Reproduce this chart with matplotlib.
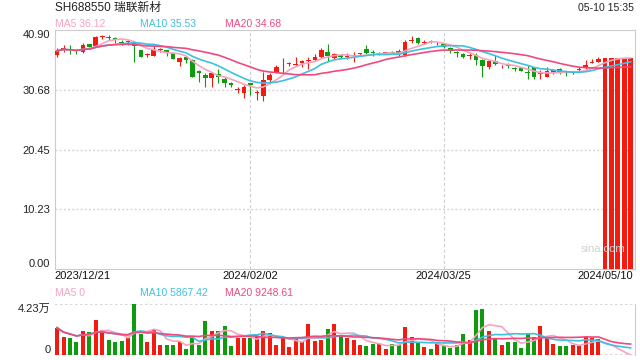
import numpy as np
import pandas as pd
import matplotlib
matplotlib.use('Agg')
import matplotlib.pyplot as plt
import matplotlib.transforms as mtransforms

plt.rcParams['font.family'] = ['Liberation Sans', 'Noto Sans CJK SC', 'DejaVu Sans']

# daily candles, 2023/12/21 .. 2024/05/10
opens = [36.68, 37.48, 37.53, 37.20, 37.19, 38.50, 38.16, 39.70, 39.70, 39.47,
         38.90, 38.80, 38.73, 37.48, 36.60, 36.50, 37.44, 37.48, 37.02, 35.48,
         36.22, 35.76, 33.88, 33.20, 32.62, 33.37, 32.51, 31.88, 30.60, 30.20,
         31.77, 30.20, 29.60, 32.34, 33.60, 35.00, 35.05, 34.90, 35.20, 35.60,
         35.76, 36.33, 37.19, 36.05, 36.62, 36.22, 36.40, 36.75, 37.59, 36.95,
         36.85, 36.95, 37.05, 37.36, 36.62, 39.00, 39.47, 38.70, 38.95, 38.60,
         38.50, 37.76, 36.95, 36.80, 36.40, 36.62, 35.76, 34.50, 35.65, 34.50,
         34.85, 34.25, 34.45, 33.50, 34.50, 33.45, 32.91, 33.48, 34.16, 33.60,
         33.55, 34.00, 34.33, 35.20, 35.48, 0.0, 0.0, 0.0, 0.0, 0.0]
closes = [37.36, 37.76, 37.42, 37.05, 38.33, 37.93, 39.64, 39.76, 39.60, 39.19,
          38.62, 38.90, 38.16, 36.33, 36.70, 37.48, 37.50, 37.19, 35.88, 36.05,
          35.76, 32.91, 33.48, 32.62, 33.48, 32.91, 31.88, 31.48, 30.65, 31.08,
          31.43, 30.30, 32.34, 33.20, 34.62, 35.08, 35.08, 34.95, 35.65, 35.65,
          36.22, 37.48, 36.45, 36.80, 36.22, 36.30, 36.45, 36.80, 37.02, 36.90,
          36.90, 37.02, 37.00, 36.80, 38.90, 39.07, 38.73, 38.80, 38.90, 38.62,
          38.05, 37.36, 36.90, 36.33, 36.45, 35.76, 34.80, 35.60, 35.02, 34.55,
          34.80, 34.20, 33.94, 33.48, 32.91, 33.48, 33.94, 34.05, 33.60, 33.55,
          33.60, 34.05, 34.90, 35.48, 35.93, 36.10, 36.10, 36.15, 36.10, 36.15]
highs = [37.76, 38.33, 38.33, 37.50, 38.62, 38.50, 39.87, 40.10, 40.10, 39.76,
         39.19, 39.19, 38.90, 37.50, 37.00, 38.33, 37.76, 37.48, 37.02, 36.22,
         36.33, 35.90, 34.05, 33.48, 33.77, 34.16, 32.91, 32.05, 31.20, 31.48,
         31.88, 30.63, 33.77, 33.48, 34.90, 36.05, 35.48, 36.22, 35.76, 36.33,
         36.80, 37.76, 38.50, 37.00, 36.80, 36.90, 37.19, 37.00, 38.33, 37.48,
         37.05, 37.20, 37.30, 37.59, 39.19, 39.87, 39.76, 39.19, 39.20, 38.90,
         38.62, 38.05, 37.36, 37.02, 36.90, 36.90, 35.88, 35.76, 36.62, 34.90,
         35.30, 34.50, 34.50, 34.90, 34.50, 34.05, 34.50, 34.30, 34.33, 33.94,
         33.94, 34.50, 35.76, 35.88, 36.22, 36.10, 36.10, 36.15, 36.10, 36.15]
lows = [36.22, 37.19, 36.80, 36.80, 37.00, 37.93, 38.05, 39.30, 39.20, 38.62,
        38.33, 38.33, 35.48, 36.30, 36.33, 36.50, 37.19, 36.45, 35.88, 34.74,
        35.30, 32.90, 32.05, 31.08, 31.08, 31.77, 31.08, 31.20, 30.05, 29.20,
        29.77, 28.90, 28.80, 31.77, 33.50, 33.48, 34.74, 34.74, 34.50, 34.16,
        35.65, 36.05, 35.65, 35.90, 36.05, 35.88, 35.48, 36.60, 36.80, 36.45,
        36.70, 36.80, 36.85, 36.45, 36.45, 38.62, 38.50, 38.50, 38.70, 38.33,
        37.90, 37.02, 36.33, 36.05, 35.88, 34.90, 32.90, 34.16, 34.85, 34.33,
        34.33, 33.94, 33.90, 32.45, 32.45, 32.45, 32.80, 33.37, 33.30, 33.00,
        33.37, 33.77, 34.16, 35.20, 35.48, 0.0, 0.0, 0.0, 0.0, 0.0]
# volume in 万
volumes = [2.28, 1.53, 1.45, 1.11, 2.00, 1.95, 2.95, 2.09, 1.28, 1.11,
           1.20, 1.45, 4.23, 1.78, 1.11, 2.17, 0.83, 0.83, 0.83, 1.11,
           0.50, 1.47, 0.83, 2.86, 2.03, 2.03, 2.45, 0.78, 1.39, 1.45,
           1.39, 1.61, 2.03, 1.84, 0.83, 1.39, 0.70, 1.33, 1.11, 2.61,
           1.17, 1.25, 2.17, 2.59, 1.67, 1.45, 1.28, 0.83, 0.75, 0.92,
           0.92, 0.50, 0.92, 0.83, 2.34, 1.50, 1.06, 0.67, 0.50, 0.97,
           0.75, 0.56, 0.83, 1.75, 1.25, 3.75, 3.84, 2.00, 1.39, 0.83,
           1.08, 1.08, 0.58, 1.81, 1.50, 2.42, 1.47, 0.92, 0.75, 0.75,
           0.83, 0.78, 1.50, 1.45, 1.33, 0.0, 0.0, 0.0, 0.0, 0.0]

tick_labels = ['2023/12/21', '2024/02/02', '2024/03/25', '2024/05/10']
tick_pos = [0, 30, 60, 89]
price_ticks = [0.00, 10.23, 20.45, 30.68, 40.90]
vol_top = 4.23

RED = '#f31a10'
GREEN = '#0e9c0e'
C_MA5 = '#f7a3c0'
C_MA10 = '#3ec0e0'
C_MA20 = '#ee4a80'

n = len(closes)
x = np.arange(n)
o = np.array(opens)
c = np.array(closes)
up = c >= o
colors = np.where(up, RED, GREEN)

ma5 = pd.Series(closes).rolling(5, min_periods=1).mean()
ma10 = pd.Series(closes).rolling(10, min_periods=1).mean()
ma20 = pd.Series(closes).rolling(20, min_periods=1).mean()
vma5 = pd.Series(volumes).rolling(5, min_periods=1).mean()
vma10 = pd.Series(volumes).rolling(10, min_periods=1).mean()
vma20 = pd.Series(volumes).rolling(20, min_periods=1).mean()

W, H = 640, 360
fig = plt.figure(figsize=(6.4, 3.6), dpi=100)
ax = fig.add_axes([54.5 / W, 1 - 269 / H, 580 / W, 239 / H])
axv = fig.add_axes([54.5 / W, 1 - 355 / H, 580 / W, 50.7 / H])

""" price panel """
ax.vlines(x, lows, highs, colors=colors, lw=0.8, zorder=3)
body = np.maximum(np.abs(c - o), 0.15)
ax.bar(x, body, bottom=np.minimum(o, c), width=0.72, color=colors, zorder=4)
ax.plot(x, ma5, color=C_MA5, lw=1.2, zorder=5)
ax.plot(x, ma10, color=C_MA10, lw=1.2, zorder=5)
ax.plot(x, ma20, color=C_MA20, lw=1.2, zorder=5)

ax.set_xlim(-0.4, n - 0.4)
ax.set_ylim(0, 40.90)
for v in price_ticks[1:-1]:
    ax.axhline(v, color='#d6d6d6', lw=1.0, ls=(0, (1.5, 1.5)), zorder=1)
for p in tick_pos[1:3]:
    ax.axvline(p, color='#cfcfcf', lw=0.8, ls=(0, (3, 2)), zorder=1)
ax.set_xticks([])
ax.set_yticks(price_ticks)
ax.set_yticklabels(['%.2f' % v for v in price_ticks], fontsize=8, color='#222222')
ax.tick_params(axis='y', length=0, pad=3)
labs = ax.get_yticklabels()
labs[0].set_va('bottom')
labs[-1].set_va('top')
for s in ax.spines.values():
    s.set_color('#cccccc')
    s.set_linewidth(0.8)

trans = mtransforms.blended_transform_factory(ax.transData, ax.transAxes)
has = ['left', 'center', 'center', 'right']
for lab, p, ha in zip(tick_labels, tick_pos, has):
    xx = -0.4 if ha == 'left' else (p + 0.4 if ha == 'right' else p)
    ax.text(xx, -0.01, lab, transform=trans, ha=ha, va='top', fontsize=8, color='#111111')

""" volume panel """
axv.bar(x, volumes, width=0.62, color=colors, zorder=3)
axv.plot(x, vma5, color=C_MA5, lw=1.2, zorder=4)
axv.plot(x, vma10, color=C_MA10, lw=1.2, zorder=4)
axv.plot(x, vma20, color=C_MA20, lw=1.2, zorder=4)
axv.set_xlim(-0.4, n - 0.4)
axv.set_ylim(0, vol_top)
axv.axhline(vol_top, color='#d0d0d0', lw=1.2, ls=(0, (1.5, 1.5)), zorder=1)
axv.axhline(0, color='#d0d0d0', lw=1.2, ls=(0, (1.5, 1.5)), zorder=1)
for p in tick_pos[1:3]:
    axv.axvline(p, color='#cfcfcf', lw=0.8, ls=(0, (3, 2)), zorder=1)
axv.set_xticks([])
axv.set_yticks([0, vol_top])
axv.set_yticklabels(['0', '%.2f万' % vol_top], fontsize=8, color='#222222')
axv.tick_params(axis='y', length=0, pad=3)
vl = axv.get_yticklabels()
vl[0].set_va('bottom')
vl[1].set_va('top')
for k in ['top', 'bottom', 'left']:
    axv.spines[k].set_visible(False)
axv.spines['right'].set_color('#cccccc')
axv.spines['right'].set_linewidth(0.8)

""" header texts (pixel positions from top-left) """
def ftext(px, py, s, **kw):
    fig.text(px / W, 1 - py / H, s, va='center', **kw)

ftext(55, 8, 'SH688550 瑞联新材', fontsize=8.5, color='#222222')
ftext(634, 8, '05-10 15:35', fontsize=7.6, color='#222222', ha='right')
ftext(55, 24, 'MA5 36.12', fontsize=7.5, color=C_MA5)
ftext(140, 24, 'MA10 35.53', fontsize=7.5, color=C_MA10)
ftext(225, 24, 'MA20 34.68', fontsize=7.5, color=C_MA20)
ftext(55, 293, 'MA5 0', fontsize=7.5, color=C_MA5)
ftext(140, 293, 'MA10 5867.42', fontsize=7.5, color=C_MA10)
ftext(225, 293, 'MA20 9248.61', fontsize=7.5, color=C_MA20)
ftext(603, 249, 'sina.com', fontsize=8, color='#d2d2d2', ha='center', zorder=0)

fig.savefig('out.png', dpi=100)
